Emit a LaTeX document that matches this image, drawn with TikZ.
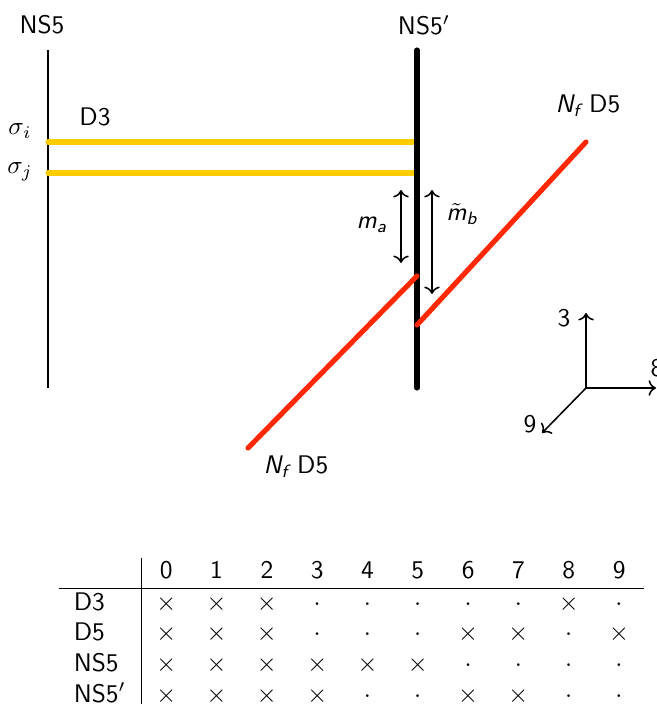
\documentclass[tikz,border=0pt]{standalone}
\usepackage{amsmath}
\usepackage{tikz}
\usetikzlibrary{arrows.meta,positioning}

\definecolor{dthree}{RGB}{255,204,0}
\definecolor{dfive}{RGB}{255,40,0}
\newcommand{\sfi}[1]{\text{\sffamily\itshape #1}}

\begin{document}
\begin{tikzpicture}[
    x=0.393pt, y=-0.393pt,
    every node/.style={font=\sffamily},
    nsfive/.style={semithick},
    nsfiveprime/.style={line width=2pt, line cap=round},
    dthreebrane/.style={line width=2pt, line cap=round, draw=dthree},
    dfivebrane/.style={line width=2pt, line cap=round, draw=dfive},
    mass/.style={<->, semithick},
    axis/.style={->, semithick},
    lbl/.style={inner sep=1pt},
]
\useasboundingbox (0,0) rectangle (656,704);

% branes
\coordinate (ns5top) at (48,50);
\coordinate (ns5bot) at (48,388);
\coordinate (nsptop) at (417,50);
\coordinate (nspbot) at (417,388);
\coordinate (si) at (48,142);
\coordinate (sj) at (48,173);
\coordinate (sie) at (417,142);
\coordinate (sje) at (417,173);
\coordinate (lowa) at (248,448);
\coordinate (lowb) at (417,276);
\coordinate (upa) at (417,325);
\coordinate (upb) at (586,142);

\draw[nsfive] (ns5top) -- (ns5bot);
\draw[dthreebrane] (si) -- (sie);
\draw[dthreebrane] (sj) -- (sje);
\draw[nsfiveprime] (nsptop) -- (nspbot);
\draw[dfivebrane] (lowa) -- (lowb);
\draw[dfivebrane] (upa) -- (upb);

% labels
\node[lbl] (ns5lab) at (42,25) {NS5};
\node[lbl] (nsplab) at (424,25) {NS5$'$};
\node[lbl] (silab) at (20,131) {$\sigma_i$};
\node[lbl] (sjlab) at (20,172) {$\sigma_j$};
\node[lbl] (d3lab) at (95,117) {D3};
\node[lbl] (d5up) at (588,106) {$\sfi{N}_{\sfi{f}}$\ D5};
\node[lbl] (d5low) at (296,467) {$\sfi{N}_{\sfi{f}}$\ D5};

% masses
\coordinate (mat) at (401,190);
\coordinate (mab) at (401,263);
\coordinate (mbt) at (432,190);
\coordinate (mbb) at (432,294);
\draw[mass] (mat) -- (mab);
\draw[mass] (mbt) -- (mbb);
\node[lbl] (malab) at (372,225) {$\sfi{m}_{\sfi{a}}$};
\node[lbl] (mblab) at (462,214) {$\tilde{\sfi{m}}_{\sfi{b}}$};

% axes
\coordinate (orig) at (586,388);
\coordinate (ax3) at (586,313);
\coordinate (ax8) at (656,388);
\coordinate (ax9) at (542,433);
\draw[axis] (orig) -- (ax3);
\draw[axis] (orig) -- (ax8);
\draw[axis] (orig) -- (ax9);
\node[lbl] (lab3) at (564,318) {3};
\node[lbl] (lab8) at (657,368) {8};
\node[lbl] (lab9) at (530,424) {9};

% table
\node[anchor=north west, inner sep=0pt] (dirs) at (58,557) {%
\begin{tabular}{l|cccccccccc}
      & 0 & 1 & 2 & 3 & 4 & 5 & 6 & 7 & 8 & 9 \\ \hline
D3    & $\times$ & $\times$ & $\times$ & $\cdot$ & $\cdot$ & $\cdot$ & $\cdot$ & $\cdot$ & $\times$ & $\cdot$ \\
D5    & $\times$ & $\times$ & $\times$ & $\cdot$ & $\cdot$ & $\cdot$ & $\times$ & $\times$ & $\cdot$ & $\times$ \\
NS5   & $\times$ & $\times$ & $\times$ & $\times$ & $\times$ & $\times$ & $\cdot$ & $\cdot$ & $\cdot$ & $\cdot$ \\
NS5$'$ & $\times$ & $\times$ & $\times$ & $\times$ & $\cdot$ & $\cdot$ & $\times$ & $\times$ & $\cdot$ & $\cdot$
\end{tabular}};

\end{tikzpicture}
\end{document}
